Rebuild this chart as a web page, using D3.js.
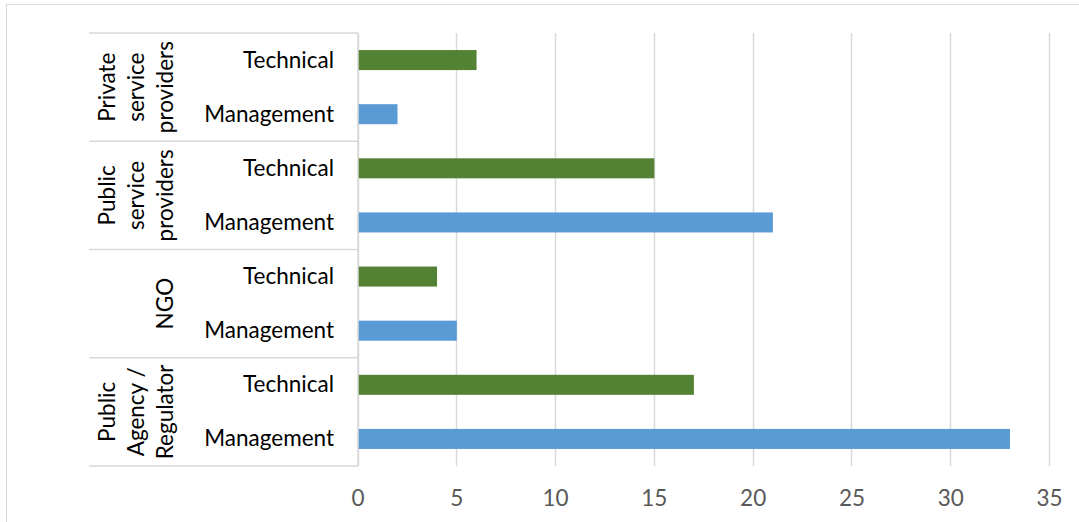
<!DOCTYPE html>
<html>
<head>
<meta charset="utf-8">
<script src="https://cdn.jsdelivr.net/npm/d3@7"></script>
<style>
  html, body { margin: 0; padding: 0; background: #fff; }
  svg { display: block; }
  text { font-family: Lato, "Open Sans", sans-serif; }
</style>
</head>
<body>
<svg id="chart" width="1079" height="522"></svg>
<script>
// ---- data ----
const groups = ["Private service providers", "Public service providers", "NGO", "Public Agency / Regulator"];
const groupLines = [["Private", "service", "providers"], ["Public", "service", "providers"], ["NGO"], ["Public", "Agency /", "Regulator"]];
const roles = ["Technical", "Management"];
const technical = [6, 15, 4, 17];
const management = [2, 21, 5, 33];
const xTicks = [0, 5, 10, 15, 20, 25, 30, 35];
const roleColors = { Technical: "#548235", Management: "#5B9BD5" };

// ---- layout ----
const W = 1079, H = 522;
const plotLeft = 357.5, plotRight = 1049, plotTop = 33, plotBottom = 466;
const groupLeft = 89;
const fontSize = 22.5;

const svg = d3.select("#chart");

// outer chart border
svg.append("rect")
  .attr("x", 6.5).attr("y", 4.5)
  .attr("width", W + 10).attr("height", H + 10)
  .attr("fill", "none").attr("stroke", "#d9d9d9").attr("stroke-width", 1);

const rows = [];
groups.forEach((g, gi) => {
  rows.push({ key: gi + "-Technical", group: gi, role: "Technical", value: technical[gi] });
  rows.push({ key: gi + "-Management", group: gi, role: "Management", value: management[gi] });
});

const x = d3.scaleLinear().domain([0, 35]).range([plotLeft, plotRight]);
const y = d3.scaleBand().domain(rows.map(r => r.key))
  .range([plotTop, plotBottom]).paddingInner(0.63).paddingOuter(0.315);

// gridlines
svg.append("g").selectAll("line").data(xTicks).join("line")
  .attr("x1", d => Math.round(x(d)) + 0.5).attr("x2", d => Math.round(x(d)) + 0.5)
  .attr("y1", plotTop).attr("y2", plotBottom)
  .attr("stroke", "#d9d9d9").attr("stroke-width", 1.5);

// bars
svg.append("g").selectAll("rect").data(rows).join("rect")
  .attr("x", x(0) + 0.5)
  .attr("y", d => y(d.key))
  .attr("width", d => x(d.value) - x(0))
  .attr("height", y.bandwidth())
  .attr("fill", d => roleColors[d.role]);

// x axis tick labels
const xAxis = d3.axisBottom(x).tickValues(xTicks).tickSize(0).tickPadding(0).tickFormat(d3.format("d"));
const gx = svg.append("g").attr("transform", `translate(0, ${plotBottom})`).call(xAxis);
gx.select(".domain").remove();
gx.selectAll("text")
  .attr("y", 40)
  .attr("dy", 0)
  .attr("fill", "#595959")
  .style("font-size", fontSize + "px")
  .style("font-family", "Lato, 'Open Sans', sans-serif");

// category axis line (left)
svg.append("line")
  .attr("x1", plotLeft + 0.5).attr("x2", plotLeft + 0.5)
  .attr("y1", plotTop).attr("y2", plotBottom)
  .attr("stroke", "#d9d9d9").attr("stroke-width", 1.5);

// group separator lines
const step = y.step();
const sepYs = d3.range(groups.length + 1).map(i => plotTop + i * 2 * step);
svg.append("g").selectAll("line").data(sepYs).join("line")
  .attr("x1", groupLeft).attr("x2", plotLeft + 0.5)
  .attr("y1", d => d).attr("y2", d => d)
  .attr("stroke", "#d9d9d9").attr("stroke-width", 1.5);

// role labels
svg.append("g").selectAll("text").data(rows).join("text")
  .attr("x", 334)
  .attr("y", d => y(d.key) + y.bandwidth() / 2 - 1)
  .attr("text-anchor", "end")
  .attr("dominant-baseline", "central")
  .attr("fill", "#000")
  .style("font-size", fontSize + "px")
  .text(d => d.role);

// group labels (rotated)
const lastBaseline = 173, lineGap = 29;
groupLines.forEach((lines, gi) => {
  const cy = plotTop + (gi * 2 + 1) * step;
  lines.forEach((ln, li) => {
    const bx = lastBaseline - (lines.length - 1 - li) * lineGap;
    svg.append("text")
      .attr("transform", `translate(${bx}, ${cy}) rotate(-90)`)
      .attr("text-anchor", "middle")
      .attr("fill", "#000")
      .style("font-size", fontSize + "px")
      .text(ln);
  });
});
</script>
</body>
</html>
